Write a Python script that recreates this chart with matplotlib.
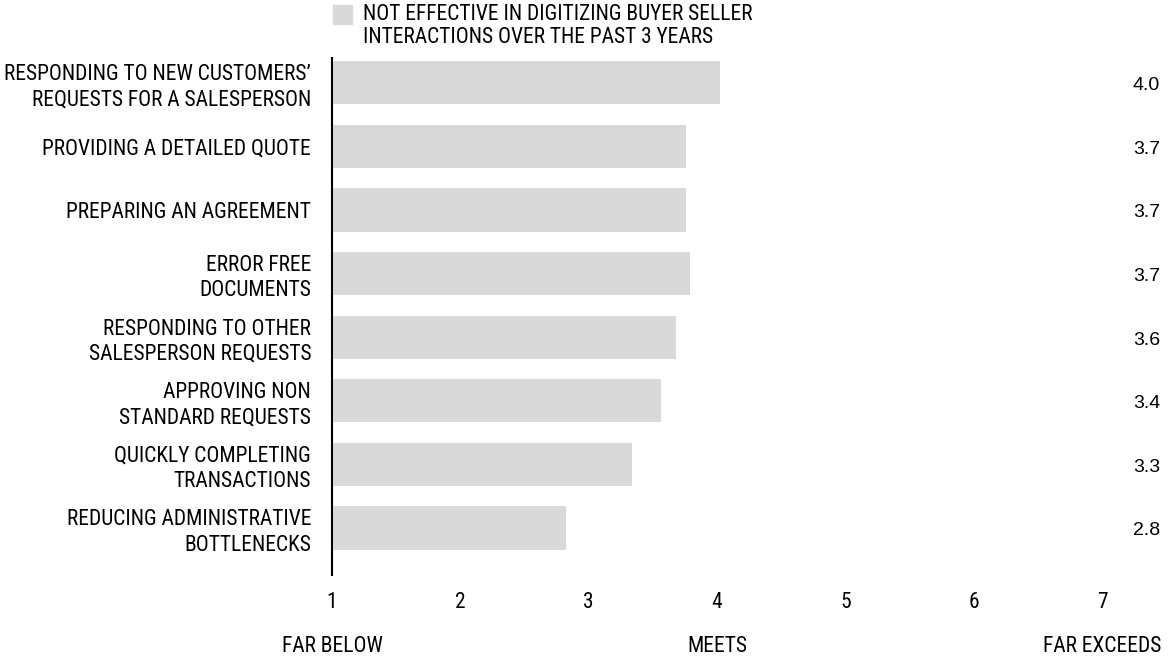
import matplotlib
matplotlib.use("Agg")
import matplotlib.pyplot as plt
from matplotlib.patches import Rectangle

COND = ["Roboto Condensed", "DejaVu Sans"]
NUM = ["Liberation Sans", "DejaVu Sans"]

categories = [
    "RESPONDING TO NEW CUSTOMERS\u2019\nREQUESTS FOR A SALESPERSON",
    "PROVIDING A DETAILED QUOTE",
    "PREPARING AN AGREEMENT",
    "ERROR FREE\nDOCUMENTS",
    "RESPONDING TO OTHER\nSALESPERSON REQUESTS",
    "APPROVING NON\nSTANDARD REQUESTS",
    "QUICKLY COMPLETING\nTRANSACTIONS",
    "REDUCING ADMINISTRATIVE\nBOTTLENECKS",
]
values = [4.02, 3.76, 3.76, 3.79, 3.68, 3.56, 3.34, 2.82]
value_labels = ["4.0", "3.7", "3.7", "3.7", "3.6", "3.4", "3.3", "2.8"]
xticks = [1, 2, 3, 4, 5, 6, 7]
scale_labels = {1: "FAR BELOW", 4: "MEETS", 7: "FAR EXCEEDS"}
legend_label = "NOT EFFECTIVE IN DIGITIZING BUYER SELLER\nINTERACTIONS OVER THE PAST 3 YEARS"

BAR = "#d9d9d9"
TXT = "#000000"
FS = 15.5
W, H = 1168, 658

fig = plt.figure(figsize=(W / 100, H / 100), dpi=100)
ax = fig.add_axes([332 / W, 1 - 575 / H, (1102 - 332) / W, (575 - 58) / H])

ypos = list(range(len(categories)))
ax.barh(ypos, [v - 1 for v in values], left=1, height=0.68, color=BAR)
ax.set_xlim(1, 7)
ax.set_ylim(7.74, -0.39)

for s in ["top", "right", "bottom"]:
    ax.spines[s].set_visible(False)
ax.spines["left"].set_linewidth(1.5)
ax.spines["left"].set_color("black")

ax.set_yticks(ypos)
ax.set_yticklabels(categories, fontfamily=COND, fontsize=FS, color=TXT,
                   linespacing=1.27)
ax.set_xticks(xticks)
ax.set_xticklabels([str(t) for t in xticks], fontfamily=COND, fontsize=FS, color=TXT)
ax.tick_params(axis="y", length=0, pad=15)
ax.tick_params(axis="x", length=0, pad=12)

# value labels on the right
for y, lab in zip(ypos, value_labels):
    ax.annotate(lab, xy=(1, y), xycoords=("axes fraction", "data"),
                xytext=(58, -3), textcoords="offset pixels", ha="right", va="center",
                fontfamily=NUM, fontsize=14, color=TXT)

# scale words under the axis
for xv, lab in scale_labels.items():
    ax.annotate(lab, xy=(xv, 0), xycoords=("data", "axes fraction"),
                xytext=(0, -72), textcoords="offset pixels", ha="center", va="center",
                fontfamily=COND, fontsize=FS, color=TXT, annotation_clip=False)

# legend: swatch aligned with first text line
fig.patches.append(Rectangle((333 / W, 1 - 24 / H), 19 / W, 19 / H, color=BAR,
                             transform=fig.transFigure, figure=fig))
fig.text(363 / W, 1 - 4 / H, legend_label, ha="left", va="top", fontfamily=COND,
         fontsize=FS, color=TXT, linespacing=1.1)

fig.savefig("out.png", dpi=100)
